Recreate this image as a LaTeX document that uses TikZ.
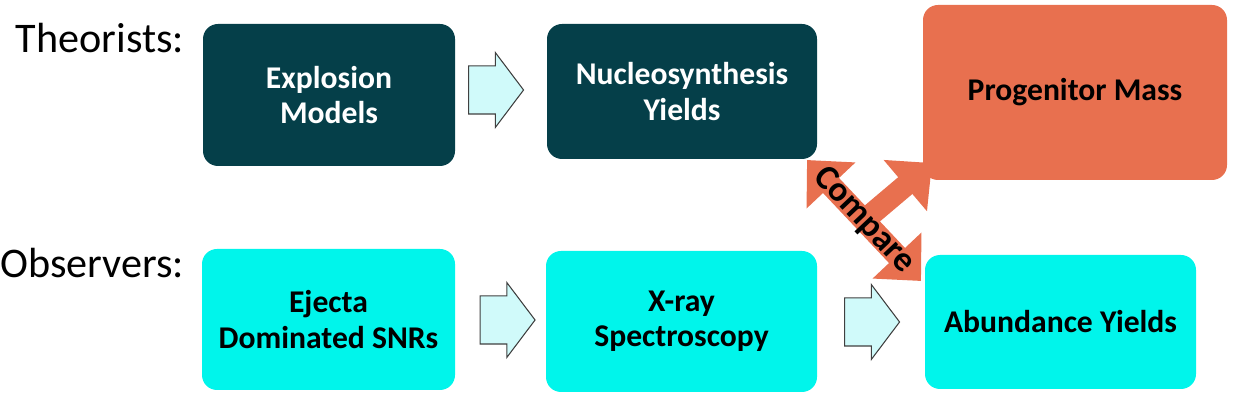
\documentclass[tikz,border=0pt]{standalone}
\usepackage{fontspec}
\setmainfont{Carlito}
\usetikzlibrary{positioning,calc,shapes.arrows,arrows.meta}
\definecolor{darkteal}{HTML}{053F49}
\definecolor{brightcyan}{HTML}{00F5EB}
\definecolor{progorange}{HTML}{E8704F}
\definecolor{arrowfill}{HTML}{D0FAFA}
\definecolor{arrowline}{HTML}{404040}

\begin{document}
\begin{tikzpicture}[box/.style={rounded corners=0.3cm,inner sep=2pt,align=center,font=\fontsize{18}{20}\selectfont\bfseries},
                    theo/.style={box,fill=darkteal,text=white},
                    obs/.style={box,fill=brightcyan,text=black},
                    blockarrow/.style={single arrow,draw=arrowline,line width=0.6pt,fill=arrowfill,inner xsep=0pt,inner ysep=0.47cm,minimum height=1.1cm,single arrow head extend=0.27cm,single arrow tip angle=106},
                    cmp/.style={draw=progorange,line width=12.5pt,{Triangle[width=1.3cm,length=0.7cm]}-{Triangle[width=1.3cm,length=0.7cm]}},
                    rowlabel/.style={anchor=base east,inner sep=0pt,font=\fontsize{24}{28}\selectfont}]
                      \useasboundingbox (0,0) rectangle (24.66,8);

                      % compare arrows
                      \coordinate (cmpA) at (16.14,4.8);
                      \coordinate (cmpB) at (18.42,2.38);
                      \coordinate (cmpC) at (18.64,4.74);
                      \coordinate (cmpM) at ($(cmpA)!0.5!(cmpB)$);
                      \draw[cmp] (cmpA) -- (cmpB);
                      \draw[draw=progorange,line width=12.5pt,-{Triangle[width=1.3cm,length=0.7cm]}] (cmpM) -- (cmpC);

                      \node[rowlabel] (theorists) at (3.69,6.94) {Theorists:};
                      \node[rowlabel] (observers) at (3.69,2.44) {Observers:};

                      \node[theo,minimum width=5.04cm,minimum height=2.84cm] (expl) at (6.58,6.1) {Explosion\\Models};
                      \node[theo,minimum width=5.4cm,minimum height=2.7cm] (nucl) at (13.64,6.17) {Nucleosynthesis\\Yields};
                      \node[box,fill=progorange,text=black,minimum width=6.08cm,minimum height=3.5cm] (prog) at (21.5,6.15) {Progenitor Mass};

                      \node[obs,minimum width=5.06cm,minimum height=2.82cm] (ejec) at (6.57,1.61) {Ejecta\\Dominated SNRs};
                      \node[obs,minimum width=5.42cm,minimum height=2.82cm] (xray) at (13.63,1.57) {X-ray\\Spectroscopy};
                      \node[obs,minimum width=5.42cm,minimum height=2.68cm] (abun) at (21.21,1.56) {Abundance Yields};

                      \node[blockarrow] (arr1) at (9.74,6.2) {};
                      \node[blockarrow] (arr2) at (9.97,1.6) {};
                      \node[blockarrow] (arr3) at (17.26,1.56) {};

                      \node[rotate=-46.7,font=\fontsize{20}{22}\selectfont\bfseries] (cmptext) at (cmpM) {Compare};
                    \end{tikzpicture}
\end{document}
